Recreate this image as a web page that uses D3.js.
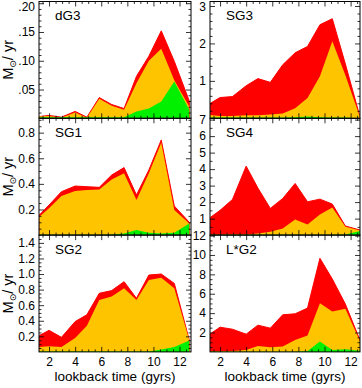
<!DOCTYPE html>
<html>
<head>
<meta charset="utf-8">
<script src="https://cdn.jsdelivr.net/npm/d3@7"></script>
<style>
  body { margin: 0; background: #fff; }
  svg text { font-family: "Liberation Sans", Arial, Helvetica, sans-serif; fill: #000; }
</style>
</head>
<body>
<svg id="chart"></svg>
<script>
// lookback time samples (gyrs), shared by every panel
const lookback = [1.25, 2.0, 2.95, 4.0, 4.9, 5.85, 6.8, 7.75, 8.7, 9.65, 10.6, 11.6, 12.75];

// each panel: red = total, yellow and green = sub-populations (drawn on top)
const dG3Red    = [0.003, 0.005, 0.002, 0.012, 0.002, 0.036, 0.024, 0.017, 0.073, 0.108, 0.152, 0.099, 0.030];
const dG3Yellow = [0.003, 0.004, 0.001, 0.010, 0.001, 0.034, 0.022, 0.015, 0.061, 0.100, 0.121, 0.066, 0.020];
const dG3Green  = [0.002, 0.002, 0.002, 0.002, 0.002, 0.002, 0.002, 0.002, 0.012, 0.017, 0.029, 0.064, 0.015];

const SG1Red    = [0.156, 0.235, 0.339, 0.383, 0.378, 0.373, 0.469, 0.527, 0.313, 0.508, 0.743, 0.227, 0.10];
const SG1Yellow = [0.143, 0.209, 0.305, 0.344, 0.352, 0.357, 0.435, 0.482, 0.274, 0.482, 0.722, 0.196, 0.09];
const SG1Green  = [0.002, 0.002, 0.002, 0.002, 0.002, 0.003, 0.004, 0.013, 0.040, 0.018, 0.013, 0.018, 0.09];

const SG2Red    = [0.21, 0.277, 0.187, 0.39, 0.477, 0.753, 0.787, 0.902, 0.689, 0.987, 1.0, 0.88, 0.15];
const SG2Yellow = [0.064, 0.072, 0.064, 0.179, 0.336, 0.668, 0.711, 0.817, 0.668, 0.923, 0.953, 0.817, 0.15];
const SG2Green  = [0.005, 0.005, 0.005, 0.005, 0.005, 0.005, 0.005, 0.005, 0.005, 0.005, 0.03, 0.064, 0.145];

const SG3Red    = [0.40, 0.555, 0.58, 0.87, 1.06, 0.96, 1.43, 1.75, 1.92, 2.5, 2.66, 1.45, 0.0];
const SG3Yellow = [0.09, 0.06, 0.06, 0.08, 0.08, 0.10, 0.13, 0.27, 0.54, 1.12, 2.06, 1.15, 0.0];
const SG3Green  = [0.02, 0.02, 0.02, 0.02, 0.02, 0.02, 0.02, 0.03, 0.045, 0.03, 0.02, 0.02, 0.0];

const SG4Red    = [1.07, 1.5, 2.16, 4.18, 2.85, 1.62, 2.22, 3.13, 2.02, 2.18, 1.88, 0.55, 0.30];
const SG4Yellow = [0.02, 0.02, 0.04, 0.04, 0.10, 0.20, 0.40, 0.95, 0.65, 1.25, 1.68, 0.50, 0.28];
const SG4Green  = [0.02, 0.02, 0.02, 0.02, 0.02, 0.02, 0.02, 0.02, 0.02, 0.02, 0.02, 0.04, 0.25];

const LG2Red    = [1.86, 2.55, 2.34, 1.83, 2.76, 2.45, 3.83, 3.93, 4.52, 9.66, 7.52, 4.93, 1.1];
const LG2Yellow = [0.07, 0.07, 0.10, 0.20, 0.62, 0.48, 0.55, 1.24, 1.69, 5.03, 4.17, 4.45, 1.0];
const LG2Green  = [0.02, 0.02, 0.02, 0.02, 0.02, 0.02, 0.02, 0.02, 0.10, 1.07, 0.20, 0.28, 0.12];

// tick values
const xTicks = [2, 4, 6, 8, 10, 12];
const dG3Ticks = [0.05, 0.10, 0.15, 0.20];
const SG1Ticks = [0.2, 0.4, 0.6, 0.8];
const SG2Ticks = [0.2, 0.4, 0.6, 0.8, 1.0, 1.2, 1.4];
const SG3Ticks = [1, 2, 3];
const SG4Ticks = [1, 2, 3, 4, 5, 6, 7];
const LG2Ticks = [2, 4, 6, 8, 10, 12];

const colors = { red: '#ff0000', yellow: '#ffc400', green: '#00f000' };

const W = 362, H = 388;
const top0 = 1.5, rowH = 116.8;
const cols = [
  { x0: 39, x1: 191, xmax: 12.88 },
  { x0: 210, x1: 360, xmax: 12.72 }
];

const panels = [
  { name: 'dG3',  col: 0, row: 0, ymax: 0.203, ticks: dG3Ticks, minor: 0.01, fmt: v => d3.format('.2f')(v).replace(/^0/, ''), red: dG3Red, yellow: dG3Yellow, green: dG3Green },
  { name: 'SG1',  col: 0, row: 1, ymax: 0.912, ticks: SG1Ticks, minor: 0.05, fmt: d3.format('.1f'), red: SG1Red, yellow: SG1Yellow, green: SG1Green },
  { name: 'SG2',  col: 0, row: 2, ymax: 1.5,   ticks: SG2Ticks, minor: 0.05, fmt: d3.format('.1f'), red: SG2Red, yellow: SG2Yellow, green: SG2Green },
  { name: 'SG3',  col: 1, row: 0, ymax: 3.12,  ticks: SG3Ticks, minor: 0.2,  fmt: d3.format('d'),   red: SG3Red, yellow: SG3Yellow, green: SG3Green },
  { name: 'SG4',  col: 1, row: 1, ymax: 7.08,  ticks: SG4Ticks, minor: 0.5,  fmt: d3.format('d'),   red: SG4Red, yellow: SG4Yellow, green: SG4Green },
  { name: 'L*G2', col: 1, row: 2, ymax: 12.05, ticks: LG2Ticks, minor: 0.5,  fmt: d3.format('d'),   red: LG2Red, yellow: LG2Yellow, green: LG2Green }
];

const svg = d3.select('#chart')
  .attr('width', W)
  .attr('height', H);

svg.append('rect').attr('width', W).attr('height', H).attr('fill', '#fff');

const defs = svg.append('defs');

panels.forEach((p, i) => {
  const c = cols[p.col];
  const yTop = top0 + p.row * rowH;
  const yBot = yTop + rowH;

  const x = d3.scaleLinear().domain([1.23, c.xmax]).range([c.x0, c.x1]);
  const y = d3.scaleLinear().domain([0, p.ymax]).range([yBot, yTop]);

  defs.append('clipPath').attr('id', 'clip' + i)
    .append('rect')
    .attr('x', c.x0).attr('y', yTop)
    .attr('width', c.x1 - c.x0).attr('height', rowH);

  const g = svg.append('g');
  const plot = g.append('g').attr('clip-path', `url(#clip${i})`);

  // overlapping filled areas, total first
  ['red', 'yellow', 'green'].forEach(key => {
    const vals = p[key];
    const area = d3.area()
      .x((d, j) => x(lookback[j]))
      .y0(y(0))
      .y1(d => y(d));
    plot.append('path')
      .datum(vals)
      .attr('d', area)
      .attr('fill', colors[key])
      .attr('stroke', key === 'red' ? colors.red : 'none')
      .attr('stroke-width', key === 'red' ? 1 : 0);
  });

  // minor ticks
  const minorY = d3.range(p.minor, p.ymax, p.minor).filter(v => !p.ticks.some(t => Math.abs(t - v) < 1e-6));
  const minorX = d3.range(1.5, c.xmax, 0.5).filter(v => v % 2 !== 0);

  const addAxis = (axis, tx, ty) => {
    const a = g.append('g')
      .attr('transform', `translate(${tx},${ty})`)
      .call(axis);
    a.select('.domain').remove();
    a.selectAll('line').attr('stroke', '#000').attr('stroke-width', 0.8);
    return a;
  };

  // y axes (left with labels, right without)
  const left = addAxis(d3.axisLeft(y).tickValues(p.ticks).tickSize(-5).tickPadding(4).tickFormat(p.fmt), c.x0, 0);
  left.selectAll('text')
    .attr('font-size', 12)
    .attr('font-family', '"Liberation Sans", Arial, sans-serif')
    .attr('fill', '#000');
  // keep the topmost label of the first row inside the picture
  if (p.row === 0) {
    left.selectAll('.tick')
      .filter(d => y(d) < 7)
      .select('text')
      .attr('y', d => 7 - y(d));
  }
  addAxis(d3.axisLeft(y).tickValues(minorY).tickSize(-2.5).tickFormat(''), c.x0, 0);
  addAxis(d3.axisRight(y).tickValues(p.ticks).tickSize(-5).tickFormat(''), c.x1, 0);
  addAxis(d3.axisRight(y).tickValues(minorY).tickSize(-2.5).tickFormat(''), c.x1, 0);

  // x axes, labels on the bottom row only
  const bottom = addAxis(d3.axisBottom(x).tickValues(xTicks).tickSize(-5).tickPadding(6)
    .tickFormat(p.row === 2 ? d3.format('d') : ''), 0, yBot);
  bottom.selectAll('text')
    .attr('font-size', 12)
    .attr('font-family', '"Liberation Sans", Arial, sans-serif')
    .attr('fill', '#000');
  addAxis(d3.axisBottom(x).tickValues(minorX).tickSize(-2.5).tickFormat(''), 0, yBot);
  addAxis(d3.axisTop(x).tickValues(xTicks).tickSize(-5).tickFormat(''), 0, yTop);
  addAxis(d3.axisTop(x).tickValues(minorX).tickSize(-2.5).tickFormat(''), 0, yTop);

  // frame
  g.append('rect')
    .attr('x', c.x0).attr('y', yTop)
    .attr('width', c.x1 - c.x0).attr('height', rowH)
    .attr('fill', 'none')
    .attr('stroke', '#000')
    .attr('stroke-width', 1);

  // panel name
  g.append('text')
    .attr('x', c.x0 + 16)
    .attr('y', yTop + 18.5)
    .attr('font-size', 13.5)
    .text(p.name);

  // y label on the left column
  if (p.col === 0) {
    const t = g.append('text')
      .attr('transform', `translate(13,${yTop + rowH / 2}) rotate(-90)`)
      .attr('text-anchor', 'middle')
      .attr('font-size', 14.5);
    t.append('tspan').text('M');
    t.append('tspan')
      .attr('font-size', 9)
      .attr('dy', 3)
      .attr('font-family', '"DejaVu Sans", sans-serif')
      .text('\u2299');
    t.append('tspan').attr('dy', -3).text('/ yr');
  }

  // x label under the bottom row
  if (p.row === 2) {
    g.append('text')
      .attr('x', (c.x0 + c.x1) / 2)
      .attr('y', 381)
      .attr('text-anchor', 'middle')
      .attr('font-size', 13.5)
      .text('lookback time (gyrs)');
  }
});
</script>
</body>
</html>
